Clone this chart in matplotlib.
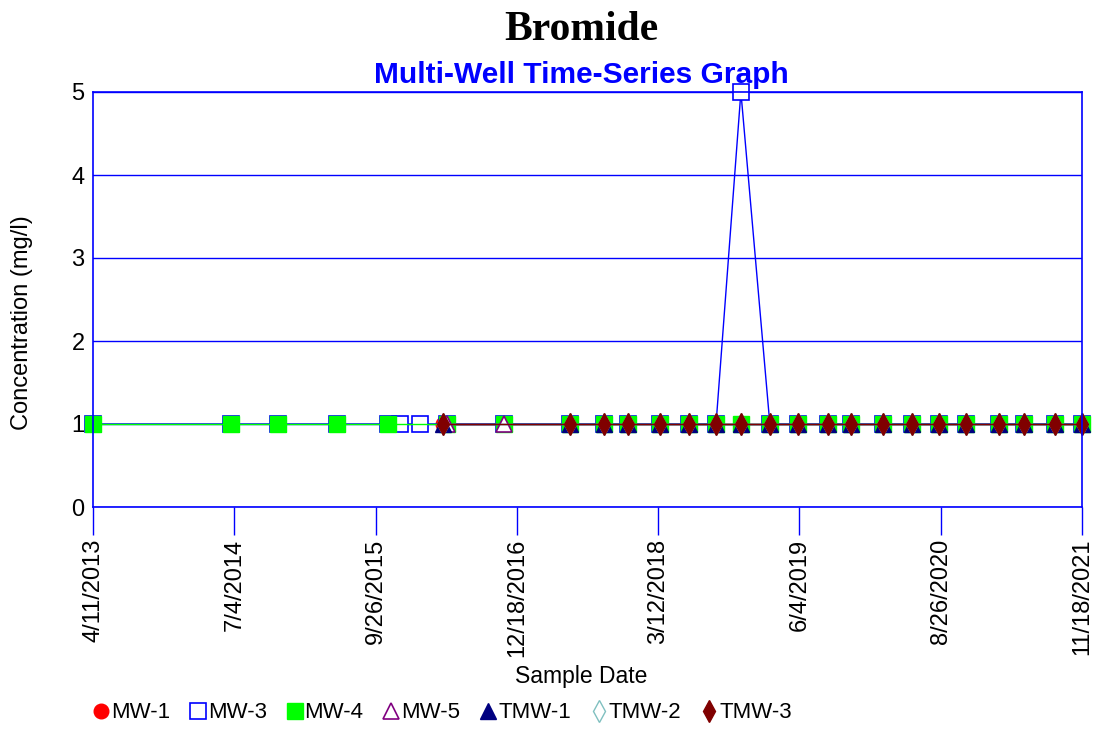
import matplotlib
matplotlib.use("Agg")
import matplotlib.pyplot as plt
import pandas as pd

plt.rcParams['font.family'] = ['Liberation Sans', 'DejaVu Sans']

# sampling dates shared by most wells from mid-2017 on
late_dates = [
    "2017-06-05", "2017-09-21", "2017-12-06", "2018-03-18", "2018-06-18",
    "2018-09-12", "2018-11-30", "2019-03-02", "2019-05-30", "2019-09-03",
    "2019-11-15", "2020-02-25", "2020-05-27", "2020-08-21", "2020-11-14",
    "2021-02-27", "2021-05-18", "2021-08-24", "2021-11-18",
]

mw1_dates = ["2016-04-27"] + late_dates
mw1_vals = [1.0] * len(mw1_dates)

mw3_dates = ["2013-04-11", "2014-06-23", "2014-11-20", "2015-05-26", "2015-11-04",
             "2015-12-12", "2016-02-14", "2016-05-10", "2016-11-07"] + late_dates
mw3_vals = [1.0] * len(mw3_dates)
mw3_vals[mw3_dates.index("2018-11-30")] = 5.0

mw4_dates = ["2013-04-11", "2014-06-23", "2014-11-20", "2015-05-26", "2015-11-04",
             "2016-05-10", "2016-11-07"] + late_dates
mw4_vals = [1.0] * len(mw4_dates)

mw5_dates = ["2016-05-10", "2016-11-07"]
mw5_vals = [1.0, 1.0]

tmw1_dates = ["2016-04-27"] + late_dates
tmw1_vals = [1.0] * len(tmw1_dates)

tmw2_dates = ["2016-04-27"] + late_dates
tmw2_vals = [1.0] * len(tmw2_dates)

tmw3_dates = ["2016-04-27"] + late_dates
tmw3_vals = [1.0] * len(tmw3_dates)

tick_dates = ["2013-04-11", "2014-07-04", "2015-09-26", "2016-12-18",
              "2018-03-12", "2019-06-04", "2020-08-26", "2021-11-18"]

series = [
    ("MW-1", mw1_dates, mw1_vals, dict(color="#ff0000", marker="o", ms=10.5, mfc="#ff0000", mec="#ff0000")),
    ("MW-3", mw3_dates, mw3_vals, dict(color="#0000ff", marker="s", ms=11.5, mfc="white", mec="#0000ff", mew=1.2)),
    ("MW-4", mw4_dates, mw4_vals, dict(color="#00ff00", marker="s", ms=11.5, mfc="#00ff00", mec="#00ff00")),
    ("MW-5", mw5_dates, mw5_vals, dict(color="#800080", marker="^", ms=12, mfc="white", mec="#800080", mew=1.2)),
    ("TMW-1", tmw1_dates, tmw1_vals, dict(color="#000080", marker="^", ms=12, mfc="#000080", mec="#000080")),
    ("TMW-2", tmw2_dates, tmw2_vals, dict(color="#80c0c0", marker="d", ms=11, mfc="white", mec="#80c0c0", mew=1.0)),
    ("TMW-3", tmw3_dates, tmw3_vals, dict(color="#800000", marker="d", ms=11, mfc="#800000", mec="#800000")),
]

fig = plt.figure(figsize=(11.03, 7.30), dpi=100)
ax = fig.add_axes([93 / 1103, 1 - 507 / 730, (1082 - 93) / 1103, (507 - 92) / 730])

handles = []
for name, d, v, style in series:
    h, = ax.plot(pd.to_datetime(d), v, lw=1.0, label=name, clip_on=False, **style)
    handles.append(h)

ax.set_ylim(0, 5)
ax.set_xlim(pd.Timestamp("2013-04-11"), pd.Timestamp("2021-11-18"))
ax.set_yticks([0, 1, 2, 3, 4, 5])
ax.yaxis.grid(True, color="#0000ff", lw=1.0)
ax.set_axisbelow(True)

ticks = pd.to_datetime(tick_dates)
ax.set_xticks(ticks)
ax.set_xticklabels([f"{t.month}/{t.day}/{t.year}" for t in ticks], rotation=90, fontsize=17)
ax.tick_params(axis="x", direction="out", length=20, width=1.0, color="#0000ff", pad=3)
ax.tick_params(axis="y", length=0, pad=6, labelsize=17)
for s in ax.spines.values():
    s.set_color("#0000ff")
    s.set_linewidth(1.2)

fig.text(22 / 1103, 1 - 323 / 730, "Concentration (mg/l)", ha="center", va="center",
         rotation=90, fontsize=17)
fig.text(581 / 1103, 1 - 677 / 730, "Sample Date", ha="center", va="center", fontsize=16.5)

fig.text(581 / 1103, 1 - 30 / 730, "Bromide", ha="center", va="center",
         fontsize=30, fontweight="bold", family=["Liberation Serif", "DejaVu Serif"])
fig.text(581 / 1103, 1 - 75 / 730, "Multi-Well Time-Series Graph", ha="center", va="center",
         fontsize=21.5, fontweight="bold", color="#0000ff")

leg_handles = []
for h in handles:
    lh, = plt.plot([], [], linestyle="none", marker=h.get_marker(), ms=h.get_markersize(),
                   mfc=h.get_markerfacecolor(), mec=h.get_markeredgecolor(), mew=h.get_markeredgewidth())
    leg_handles.append(lh)
fig.legend(leg_handles, [s[0] for s in series], loc="center left",
           bbox_to_anchor=(72 / 1103, 1 - 713 / 730), ncol=7, frameon=False,
           fontsize=16, handlelength=0.8, handletextpad=0.05, columnspacing=0.85)

fig.savefig("out.png", dpi=100)
